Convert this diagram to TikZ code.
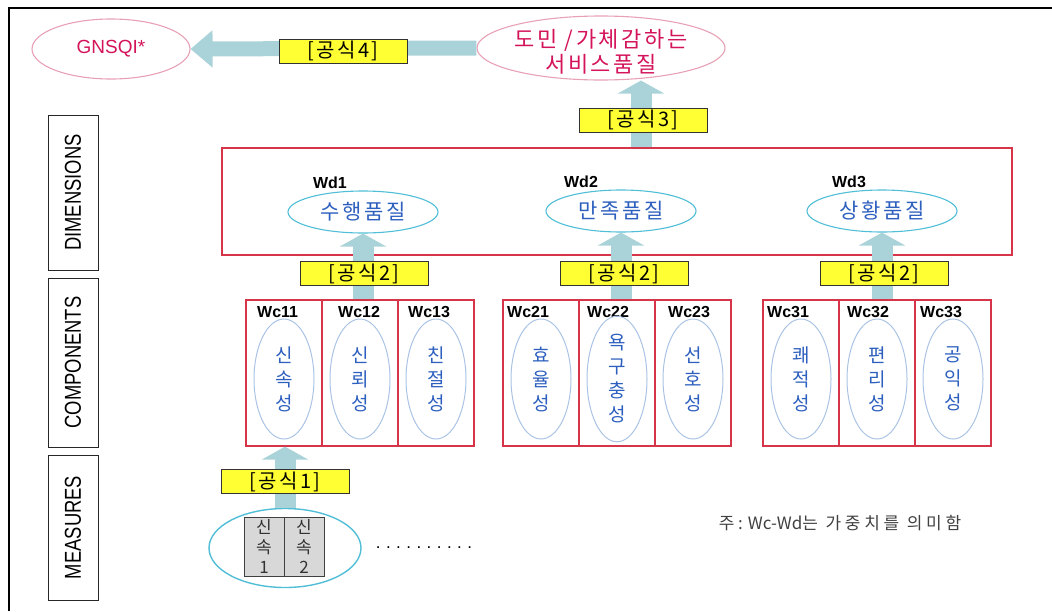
\documentclass[tikz,border=0pt]{standalone}
\usepackage{fontspec}
\usepackage{graphicx}
\setmainfont{Liberation Sans}
\newfontfamily\kr{Noto Sans CJK KR}
\newfontfamily\krs{Noto Sans CJK KR}[LetterSpace=12]
\newfontfamily\krn{Noto Sans CJK KR}[LetterSpace=22]
\usetikzlibrary{arrows.meta,shapes.geometric}
\definecolor{arrowc}{RGB}{170,211,217}
\definecolor{redc}{RGB}{214,52,72}
\definecolor{pinkc}{RGB}{232,160,180}
\definecolor{crim}{RGB}{212,20,90}
\definecolor{cyanc}{RGB}{80,190,215}
\definecolor{compell}{RGB}{170,195,228}
\definecolor{bluet}{RGB}{45,95,190}
\definecolor{yel}{RGB}{255,255,51}
\definecolor{greyf}{RGB}{216,216,216}
\definecolor{notec}{RGB}{64,64,64}
\newcommand\fs[1]{\fontsize{#1}{#1}\selectfont}
\tikzset{
  frameline/.style={line width=1.2pt, draw=black},
  sidebox/.style={draw=black!85, line width=0.9pt, rotate=90, inner sep=0pt,
    minimum height=50pt, font=\fs{23}},
  topell/.style={ellipse, draw=pinkc, line width=1.1pt, inner sep=0pt, text=crim},
  dimell/.style={ellipse, draw=cyanc, line width=1.1pt, inner sep=0pt,
    minimum width=150pt, minimum height=42pt, text=bluet, font=\krs\fs{21}},
  wlabel/.style={font=\bfseries\fs{16}, inner sep=0pt},
  cell/.style={draw=redc, line width=1.2pt, minimum width=76pt, minimum height=146pt, inner sep=0pt},
  compell/.style={ellipse, draw=compell, line width=1pt, minimum width=60pt, minimum height=120pt,
    inner sep=0pt, text=bluet, align=center, font=\kr\fontsize{19}{24}\selectfont},
  formula/.style={draw=black!80, fill=yel, line width=1pt, minimum width=128pt,
    minimum height=24pt, inner sep=0pt, font=\krs\fs{20}},
  bigarrow/.style={draw=arrowc, line width=21pt, -{Triangle[width=46pt,length=13pt]}},
  sidearrow/.style={draw=arrowc, line width=15pt, -{Triangle[width=36pt,length=22pt]}},
  greybox/.style={draw=black!75, fill=greyf, line width=1pt, minimum width=40pt, minimum height=59pt,
    inner sep=0pt, align=center, text=black!80, font=\kr\fontsize{17}{20}\selectfont},
}
\begin{document}
\begin{tikzpicture}[x=1pt,y=-1pt]
\useasboundingbox (0,0) rectangle (1052,611);
\draw[frameline] (9,611) -- (9,8) -- (1052,8);

% side labels
\node[sidebox, minimum width=155pt] (sdim) at (73,192.5) {\scalebox{0.8}[1]{DIMENSIONS}};
\node[sidebox, minimum width=169pt] (scomp) at (73,362.5) {\scalebox{0.8}[1]{COMPONENTS}};
\node[sidebox, minimum width=145pt] (smeas) at (73,527.5) {\scalebox{0.8}[1]{MEASURES}};

% top ellipses
\node[topell, minimum width=158pt, minimum height=60pt, font=\fs{19}] (gn) at (111,49) {GNSQI*};
\node[topell, minimum width=248pt, minimum height=64pt] (tq) at (601,48) {};
\node[text=crim, align=center, font=\krs\fontsize{22}{25}\selectfont, inner sep=0pt] (tqt) at (601,52) {도민 /가체감하는\\서비스품질};

% dimensions box
\node[draw=redc, line width=1.2pt, minimum width=790pt, minimum height=107pt, inner sep=0pt] (dims) at (617,201.5) {};
\node[dimell] (d1) at (363,212) {수행품질};
\node[dimell] (d2) at (621,211) {만족품질};
\node[dimell] (d3) at (882,211) {상황품질};
\node[wlabel] (wd1) at (330,183) {Wd1};
\node[wlabel] (wd2) at (581,182) {Wd2};
\node[wlabel] (wd3) at (849,182) {Wd3};

% component cells
\node[cell] (c11) at (284,373) {};
\node[cell] (c12) at (360,373) {};
\node[cell] (c13) at (436,373) {};
\node[cell] (c21) at (541,373) {};
\node[cell] (c22) at (617,373) {};
\node[cell] (c23) at (693,373) {};
\node[cell] (c31) at (801,373) {};
\node[cell] (c32) at (877,373) {};
\node[cell] (c33) at (953,373) {};

\node[wlabel, anchor=west] (w11) at (257,312) {Wc11};
\node[wlabel, anchor=west] (w12) at (338,312) {Wc12};
\node[wlabel, anchor=west] (w13) at (408,312) {Wc13};
\node[wlabel, anchor=west] (w21) at (507,312) {Wc21};
\node[wlabel, anchor=west] (w22) at (587,312) {Wc22};
\node[wlabel, anchor=west] (w23) at (668,312) {Wc23};
\node[wlabel, anchor=west] (w31) at (767,312) {Wc31};
\node[wlabel, anchor=west] (w32) at (847,312) {Wc32};
\node[wlabel, anchor=west] (w33) at (920,312) {Wc33};

\node[compell] (e11) at (284,379) {신\\속\\성};
\node[compell] (e12) at (360,379) {신\\뢰\\성};
\node[compell] (e13) at (436,379) {친\\절\\성};
\node[compell] (e21) at (541,379) {효\\율\\성};
\node[compell] (e22) at (617,379) {욕\\구\\충\\성};
\node[compell] (e23) at (693,379) {선\\호\\성};
\node[compell] (e31) at (801,379) {쾌\\적\\성};
\node[compell] (e32) at (877,379) {편\\리\\성};
\node[compell] (e33) at (953,379) {공\\익\\성};

% measures
\node[ellipse, draw=cyanc, line width=1.4pt, minimum width=152pt, minimum height=79pt, inner sep=0pt] (m) at (285,548) {};
\node[greybox] (m1) at (264,546.5) {신\\속\\1};
\node[greybox] (m2) at (304,546.5) {신\\속\\2};
\node[font=\fs{17}\addfontfeature{LetterSpace=32}, inner sep=0pt] (dots) at (424,548) {..........};

% note
\node[font=\kr\fs{17}, text=notec, inner sep=0pt] (note) at (840,523) {{\krn 주:} Wc-Wd{\krn 는 가중치를 의미함}};

% arrows
\draw[sidearrow] (tq.west) -- (gn.east);
\draw[bigarrow] ([xshift=40pt]tq.south |- dims.north) -- ([xshift=40pt]tq.south);
\draw[bigarrow] (d1.south |- c12.north) -- (d1.south);
\draw[bigarrow] (d2.south |- c22.north) -- (d2.south);
\draw[bigarrow] (d3.south |- c32.north) -- (d3.south);
\draw[bigarrow] (m.north) -- (m.north |- c11.south);

% formula boxes
\node[formula] (f4) at (343,51) {[공식4]};
\node[formula] (f3) at (643,120) {[공식3]};
\node[formula] (f21) at (364,273.5) {[공식2]};
\node[formula] (f22) at (624,273.5) {[공식2]};
\node[formula] (f23) at (884,273.5) {[공식2]};
\node[formula] (f1) at (285,481.5) {[공식1]};
\end{tikzpicture}
\end{document}
